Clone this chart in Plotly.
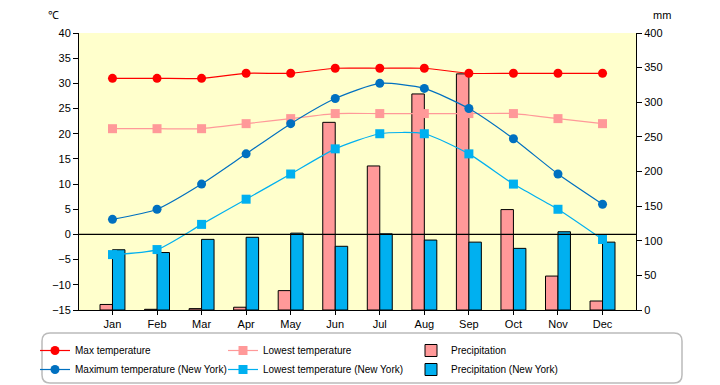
import plotly.graph_objects as go

months = ["Jan", "Feb", "Mar", "Apr", "May", "Jun", "Jul", "Aug", "Sep", "Oct", "Nov", "Dec"]
max_temp = [31, 31, 31, 32, 32, 33, 33, 33, 32, 32, 32, 32]
low_temp = [21, 21, 21, 22, 23, 24, 24, 24, 24, 24, 23, 22]
precip = [8, 1, 2, 4, 28, 271, 208, 312, 341, 145, 49, 13]
ny_max = [3, 5, 10, 16, 22, 27, 30, 29, 25, 19, 12, 6]
ny_low = [-4, -3, 2, 7, 12, 17, 20, 20, 16, 10, 5, -1]
ny_precip = [87, 83, 102, 105, 111, 92, 110, 101, 98, 89, 113, 98]

temp_ticks = list(range(-15, 41, 5))
mm_ticks = list(range(0, 401, 50))

FONT = "Liberation Sans, Arial, sans-serif"

fig = go.Figure()

# bars on primary y (mm, shown on the right); lines on y2 (temperature, left) drawn above
fig.add_trace(go.Bar(x=months, y=precip, name="Precipitation", yaxis="y",
                     marker=dict(color="#FF9999", line=dict(color="black", width=1))))
fig.add_trace(go.Bar(x=months, y=ny_precip, name="Precipitation (New York)", yaxis="y",
                     marker=dict(color="#00B0F0", line=dict(color="black", width=1))))

line_kw = dict(mode="lines+markers", yaxis="y2", line_shape="spline")
fig.add_trace(go.Scatter(x=months, y=max_temp, name="Max temperature",
                         line=dict(color="#FF0000", width=1.2, smoothing=0.6),
                         marker=dict(symbol="circle", size=9, color="#FF0000"), **line_kw))
fig.add_trace(go.Scatter(x=months, y=low_temp, name="Lowest temperature",
                         line=dict(color="#FF9999", width=1.2, smoothing=0.6),
                         marker=dict(symbol="square", size=9, color="#FF9999"), **line_kw))
fig.add_trace(go.Scatter(x=months, y=ny_max, name="Maximum temperature (New York)",
                         line=dict(color="#0070C0", width=1.2, smoothing=0.6),
                         marker=dict(symbol="circle", size=9, color="#0070C0"), **line_kw))
fig.add_trace(go.Scatter(x=months, y=ny_low, name="Lowest temperature (New York)",
                         line=dict(color="#00B0F0", width=1.2, smoothing=0.6),
                         marker=dict(symbol="square", size=9, color="#00B0F0"), **line_kw))

# legend order
order = {"Max temperature": 1, "Lowest temperature": 2, "Precipitation": 3,
         "Maximum temperature (New York)": 4, "Lowest temperature (New York)": 5,
         "Precipitation (New York)": 6}
for tr in fig.data:
    tr.legendrank = order[tr.name]

fig.update_layout(
    width=720, height=385,
    margin=dict(l=79, r=84, t=33, b=75, autoexpand=False),
    paper_bgcolor="white",
    plot_bgcolor="#FFFFCC",
    font=dict(family=FONT, size=11, color="black"),
    barmode="group", bargap=0.44, bargroupgap=0,
    showlegend=True,
    legend=dict(orientation="h", xref="paper", yref="paper",
                x=(35 - 79) / 557, y=(310 - 336) / 277, xanchor="left", yanchor="top",
                entrywidth=143, entrywidthmode="pixels", traceorder="normal",
                bgcolor="rgba(0,0,0,0)", borderwidth=0,
                font=dict(family=FONT, size=10), itemwidth=30),
    xaxis=dict(showline=True, linecolor="black", linewidth=1, ticks="outside",
               ticklen=4, tickcolor="black", mirror=False, showgrid=False,
               tickfont=dict(size=11)),
    yaxis=dict(range=[0, 400], tickvals=mm_ticks, side="right", showline=True,
               linecolor="black", linewidth=1, ticks="outside", ticklen=5,
               tickcolor="black", showgrid=False, zeroline=False, tickfont=dict(size=11)),
    yaxis2=dict(range=[-15, 40], tickvals=temp_ticks, side="left", overlaying="y",
                showline=True, linecolor="black", linewidth=1, ticks="outside",
                ticklen=5, tickcolor="black", showgrid=False, zeroline=False,
                tickfont=dict(size=11)),
    annotations=[
        dict(text="℃", xref="paper", yref="paper", x=(53 - 79) / 557, y=(310 - 15) / 277,
             showarrow=False, xanchor="center", yanchor="middle", font=dict(size=11)),
        dict(text="mm", xref="paper", yref="paper", x=(662 - 79) / 557, y=(310 - 15) / 277,
             showarrow=False, xanchor="center", yanchor="middle", font=dict(size=11)),
    ],
)

# zero line of temperature axis, above the bars
fig.add_shape(type="line", xref="paper", yref="y2", x0=0, x1=1, y0=0, y1=0,
              line=dict(color="black", width=1.2), layer="above")

# rounded legend frame (paper coords)
W = 557.0
H = 277.0
def px_x(p):
    return (p - 79) / W
def px_y(p):
    return (310 - p) / H
x0, x1, y0, y1, r = 42, 682, 333, 383, 8
path = (f"M {px_x(x0+r)},{px_y(y0)} L {px_x(x1-r)},{px_y(y0)} "
        f"Q {px_x(x1)},{px_y(y0)} {px_x(x1)},{px_y(y0+r)} "
        f"L {px_x(x1)},{px_y(y1-r)} Q {px_x(x1)},{px_y(y1)} {px_x(x1-r)},{px_y(y1)} "
        f"L {px_x(x0+r)},{px_y(y1)} Q {px_x(x0)},{px_y(y1)} {px_x(x0)},{px_y(y1-r)} "
        f"L {px_x(x0)},{px_y(y0+r)} Q {px_x(x0)},{px_y(y0)} {px_x(x0+r)},{px_y(y0)} Z")
fig.add_shape(type="path", xref="paper", yref="paper", path=path,
              line=dict(color="#BBBBBB", width=1.5), fillcolor="rgba(0,0,0,0)", layer="below")

fig.write_html("out.html", config={"displayModeBar": False},
               post_script="document.body.style.margin='0';")
